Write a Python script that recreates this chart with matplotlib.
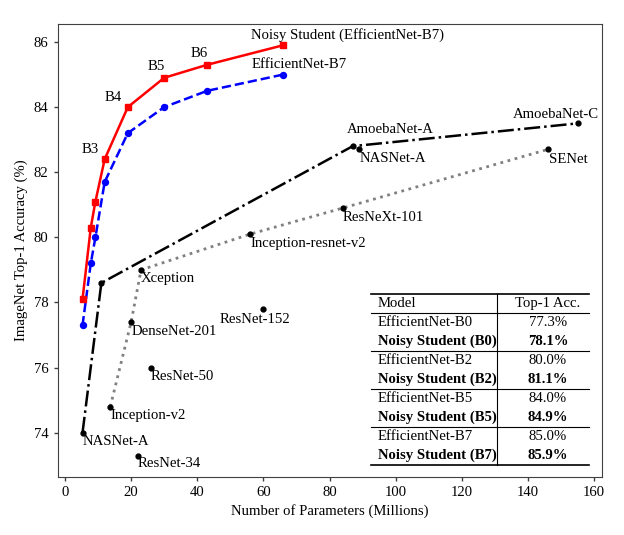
import matplotlib.pyplot as plt

plt.rcParams['font.family'] = ['Liberation Serif', 'DejaVu Serif']
plt.rcParams['font.size'] = 10.6

# EfficientNet B0..B7 sizes (millions of params)
b_params = [5.3, 7.8, 9.2, 12, 19, 30, 43, 66]
ns_acc = [78.1, 80.3, 81.1, 82.4, 84.0, 84.9, 85.3, 85.9]     # Noisy Student
eff_acc = [77.3, 79.2, 80.0, 81.7, 83.2, 84.0, 84.5, 85.0]    # EfficientNet
b_names = ['', '', '', 'B3', 'B4', 'B5', 'B6', '']

# NASNet / AmoebaNet (dash-dot)
amb_params = [5.3, 11, 87, 155]
amb_acc = [74.0, 78.6, 82.8, 83.5]
amb_names = ['NASNet-A', '', 'AmoebaNet-A', 'AmoebaNet-C']

# Inception etc (dotted)
inc_params = [13.7, 20, 23, 56, 84, 146]
inc_acc = [74.8, 77.4, 79.0, 80.1, 80.9, 82.7]
inc_names = ['Inception-v2', 'DenseNet-201', 'Xception', 'Inception-resnet-v2', 'ResNeXt-101', 'SENet']

# single points
oth_params = [22, 26, 60, 89]
oth_acc = [73.3, 76.0, 77.8, 82.7]
oth_names = ['ResNet-34', 'ResNet-50', 'ResNet-152', 'NASNet-A']

table_models = ['EfficientNet-B0', 'Noisy Student (B0)', 'EfficientNet-B2', 'Noisy Student (B2)',
                'EfficientNet-B5', 'Noisy Student (B5)', 'EfficientNet-B7', 'Noisy Student (B7)']
table_acc = ['77.3%', '78.1%', '80.0%', '81.1%', '84.0%', '84.9%', '85.0%', '85.9%']

fig = plt.figure(figsize=(6.24, 5.35), dpi=100)
ax = fig.add_axes([0.0925, 0.109, 0.8722, 0.846])

ax.plot(inc_params, inc_acc, ':', color='gray', lw=2, zorder=1)
ax.plot(inc_params, inc_acc, 'o', color='k', ms=3.5, zorder=3)
ax.plot(amb_params, amb_acc, '-.', color='k', lw=1.8, marker='o', ms=3.5, zorder=2)
ax.plot(oth_params, oth_acc, 'o', color='k', ms=3.5, ls='none', zorder=3)
ax.plot(b_params, eff_acc, '--', color='blue', lw=1.8, marker='o', ms=4.3, zorder=4)
ax.plot(b_params, ns_acc, '-', color='red', lw=1.8, marker='s', ms=4.3, zorder=5)

# labels (offsets in pixels)
below = (0, -9, 'left')
offs = {
    'Inception-v2': below, 'DenseNet-201': below, 'Xception': below,
    'Inception-resnet-v2': below, 'ResNeXt-101': below, 'SENet': (1, -10, 'left'),
    'ResNet-34': (0, -8, 'left'), 'ResNet-50': below, 'ResNet-152': (-8, -11, 'center'),
    'AmoebaNet-A': (-6, 17, 'left'), 'AmoebaNet-C': (21, 9, 'right'),
}

def label(xs, ys, names, default=below):
    for x, y, n in zip(xs, ys, names):
        if not n:
            continue
        dx, dy, ha = offs.get(n, default)
        ax.annotate(n, (x, y), xytext=(dx, dy), textcoords='offset pixels',
                    ha=ha, va='center')

label(inc_params, inc_acc, inc_names)
label(amb_params, amb_acc, amb_names)
label(oth_params, oth_acc, oth_names)

b_off = {'B3': (-14, 10), 'B4': (-15, 10), 'B5': (-8, 11), 'B6': (-8, 11)}
for x, y, n in zip(b_params, ns_acc, b_names):
    if n:
        ax.annotate(n, (x, y), xytext=b_off[n], textcoords='offset pixels',
                    ha='center', va='center')

ax.annotate('Noisy Student (EfficientNet-B7)', (b_params[-1], ns_acc[-1]), xytext=(-32, 10),
            textcoords='offset pixels', ha='left', va='center')
ax.annotate('EfficientNet-B7', (b_params[-1], eff_acc[-1]), xytext=(-32, 10),
            textcoords='offset pixels', ha='left', va='center')

# table inset (axes fraction)
tl, tr, tv = 0.5756, 0.9761, 0.8065
t_top, t_head = 0.4036, 0.3609
row_h = 0.0418
tf = ax.transAxes
ax.plot([tl, tr], [t_top, t_top], color='k', lw=1.2, transform=tf, clip_on=False)
ax.plot([tl, tr], [t_head, t_head], color='k', lw=0.8, transform=tf)
bottom = t_head - row_h * len(table_models)
ax.plot([tv, tv], [bottom, t_top], color='k', lw=0.8, transform=tf)
hy = (t_top + t_head) / 2
ax.text(0.5885, hy, 'Model', transform=tf, va='center', ha='left')
ax.text(0.9008, hy, 'Top-1 Acc.', transform=tf, va='center', ha='center')
for i, (m, a) in enumerate(zip(table_models, table_acc)):
    yc = t_head - row_h * (i + 0.5)
    w = 'bold' if i % 2 else 'normal'
    ax.text(0.5885, yc, m, transform=tf, va='center', ha='left', fontweight=w)
    ax.text(0.9008, yc, a, transform=tf, va='center', ha='center', fontweight=w)
    if i % 2:
        yl = t_head - row_h * (i + 1)
        ax.plot([tl, tr], [yl, yl], color='k', lw=1.2 if i == len(table_models) - 1 else 0.8,
                transform=tf)

ax.set_xlim(-2.2, 162.4)
ax.set_ylim(72.65, 86.55)
ax.set_xticks(range(0, 161, 20))
ax.set_yticks(range(74, 87, 2))
ax.set_xlabel('Number of Parameters (Millions)')
ax.set_ylabel('ImageNet Top-1 Accuracy (%)')
ax.tick_params(direction='out', length=3, width=1, colors='0.25', labelcolor='k')
for s in ax.spines.values():
    s.set_color('0.25')

fig.savefig('out.png', dpi=100)
